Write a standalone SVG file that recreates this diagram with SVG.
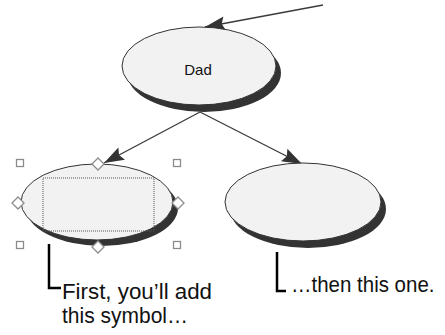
<svg xmlns="http://www.w3.org/2000/svg" width="445" height="335" viewBox="0 0 445 335">
<style>
.shadow{fill:#333333;}
.node{fill:#f2f2f2;stroke:#333333;stroke-width:1;}
.conn{stroke:#3a3a3a;stroke-width:1.3;fill:none;}
.handle{fill:#ffffff;stroke:#8c8c8c;stroke-width:1.3;}
.callout{stroke:#000000;stroke-width:2.5;fill:none;}
.lbl{font-family:"Liberation Sans",Arial,sans-serif;fill:#111111;}
.big{font-size:20.5px;}
</style>
<defs>
<marker id="ah" markerUnits="userSpaceOnUse" markerWidth="26" markerHeight="18" viewBox="-23 -9 26 18" refX="0" refY="0" orient="auto">
<path d="M0,0 L-20,-7 L-17,0 L-20,7 Z" fill="#333333"/>
</marker>
</defs>
<g id="connectors">
<line class="conn" x1="323" y1="5" x2="205" y2="27" marker-end="url(#ah)"/>
<line class="conn" x1="200" y1="112" x2="104" y2="163" marker-end="url(#ah)"/>
<line class="conn" x1="200" y1="112" x2="302" y2="164" marker-end="url(#ah)"/>
</g>
<g id="dad">
<ellipse class="shadow" cx="204" cy="73" rx="77" ry="39"/>
<ellipse class="node" cx="199" cy="66" rx="77" ry="39"/>
<text class="lbl" x="198" y="75" font-size="15" text-anchor="middle">Dad</text>
</g>
<g id="child1">
<ellipse class="shadow" cx="102" cy="208" rx="76" ry="38"/>
<ellipse class="node" cx="97" cy="202" rx="76" ry="38"/>
<rect x="43" y="178" width="111" height="53" fill="none" stroke="#555555" stroke-width="1" stroke-dasharray="1,1"/>
<rect class="handle" x="16.5" y="159.5" width="7" height="7"/>
<rect class="handle" x="173.5" y="159.5" width="7" height="7"/>
<rect class="handle" x="16.5" y="241.5" width="7" height="7"/>
<rect class="handle" x="173.5" y="241.5" width="7" height="7"/>
<path class="handle" d="M98,158 L104,164 L98,170 L92,164 Z"/>
<path class="handle" d="M18,197 L24,203 L18,209 L12,203 Z"/>
<path class="handle" d="M178,197 L184,203 L178,209 L172,203 Z"/>
<path class="handle" d="M98,241 L104,247 L98,253 L92,247 Z"/>
</g>
<g id="child2">
<ellipse class="shadow" cx="308" cy="209" rx="78" ry="39"/>
<ellipse class="node" cx="303" cy="202" rx="78" ry="39"/>
</g>
<g id="callout1">
<path class="callout" d="M49,244 V288 H61"/>
<text class="lbl big" transform="translate(62,299) scale(1,1.12)" textLength="150" lengthAdjust="spacingAndGlyphs">First, you’ll add</text>
<text class="lbl big" transform="translate(62,323) scale(1,1.12)" textLength="126" lengthAdjust="spacingAndGlyphs">this symbol…</text>
</g>
<g id="callout2">
<path class="callout" d="M277,252 V291 H286"/>
<text class="lbl big" transform="translate(291,292) scale(1,1.12)">…then this one.</text>
</g>
</svg>
